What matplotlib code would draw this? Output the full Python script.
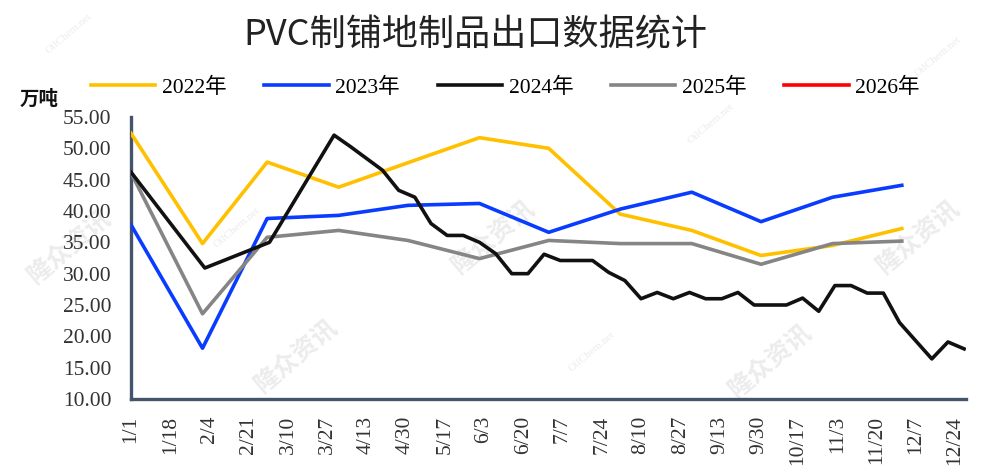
import matplotlib
matplotlib.use("Agg")
import matplotlib.pyplot as plt
import pandas as pd

plt.rcParams["font.family"] = ["Liberation Serif", "Noto Sans CJK SC", "DejaVu Sans"]

# monthly series (1st of each month)
months = ["1/1", "2/1", "3/1", "4/1", "5/1", "6/1", "7/1", "8/1", "9/1", "10/1", "11/1", "12/1"]
y2022 = [52.4, 34.8, 47.8, 43.8, 47.7, 51.7, 50.0, 39.5, 36.9, 32.9, 34.5, 37.2]
y2023 = [37.8, 18.1, 38.8, 39.3, 40.9, 41.2, 36.6, 40.3, 43.0, 38.3, 42.2, 44.1]
y2025 = [46.1, 23.6, 35.8, 36.9, 35.3, 32.4, 35.3, 34.8, 34.8, 31.5, 34.8, 35.2]
y2026 = []

# 2024 weekly series
dates2024 = ["1/1", "2/2", "3/2", "3/30", "4/6", "4/13", "4/20", "4/27", "5/4", "5/11",
             "5/18", "5/25", "6/1", "6/8", "6/15", "6/22", "6/29", "7/6", "7/13", "7/20",
             "7/27", "8/3", "8/10", "8/17", "8/24", "8/31", "9/7", "9/14", "9/21", "9/28",
             "10/5", "10/12", "10/19", "10/26", "11/2", "11/9", "11/16", "11/23", "11/30",
             "12/7", "12/14", "12/21", "12/28"]
y2024 = [46.2, 30.9, 35.0, 52.1, 50.3, 48.4, 46.5, 43.3, 42.2, 38.0,
         36.1, 36.1, 35.0, 33.2, 30.0, 30.0, 33.1, 32.1, 32.1, 32.1,
         30.2, 28.9, 26.0, 27.0, 26.0, 27.0, 26.0, 26.0, 27.0, 25.0,
         25.0, 25.0, 26.1, 24.0, 28.1, 28.1, 26.9, 26.9, 22.2,
         19.3, 16.4, 19.1, 18.0]

tick_dates = pd.date_range("2025-01-01", periods=22, freq="17D")


def day_of_year(labels):
    return [pd.Timestamp(f"2025/{s}").dayofyear - 1 for s in labels]


fig = plt.figure(figsize=(9.87, 4.75), dpi=100)
ax = fig.add_axes([0.1327, 0.16, 0.846, 0.5937])
ax.set_facecolor("none")

lw = 2.6
ax.plot(day_of_year(months), y2022, color="#FFC000", lw=lw, label="2022年", zorder=3)
ax.plot(day_of_year(months), y2023, color="#0A3CFF", lw=lw, label="2023年", zorder=3)
ax.plot(day_of_year(dates2024), y2024, color="#111111", lw=lw, label="2024年", zorder=4)
ax.plot(day_of_year(months), y2025, color="#858585", lw=lw, label="2025年", zorder=3)
ax.plot(day_of_year(months[:len(y2026)]), y2026, color="#FF0000", lw=lw, label="2026年", zorder=3)

ax.set_xlim(0, 361.8)
ax.set_ylim(10, 55)
ax.set_yticks(range(10, 56, 5))
ax.set_yticklabels([f"{v:.2f}" for v in range(10, 56, 5)])
ax.set_xticks([(d - tick_dates[0]).days for d in tick_dates])
ax.set_xticklabels([f"{d.month}/{d.day}" for d in tick_dates], rotation=90, va="top")

for side in ("top", "right"):
    ax.spines[side].set_visible(False)
for side in ("left", "bottom"):
    ax.spines[side].set_color("#44546A")
    ax.spines[side].set_linewidth(2.4)

ax.tick_params(axis="both", length=0, labelsize=15.5, colors="#333333")
ax.tick_params(axis="y", pad=14)
ax.tick_params(axis="x", pad=12)

fig.text(0.482, 0.925, "PVC制铺地制品出口数据统计", ha="center", va="center",
         fontsize=26, color="#222222", family=["Noto Sans CJK SC"])
fig.text(0.04, 0.79, "万吨", ha="center", va="center", fontsize=14,
         color="#111111", family=["Noto Sans CJK SC"], weight="bold")

fig.legend(loc="center", bbox_to_anchor=(0.512, 0.815), ncol=5, frameon=False,
           fontsize=15.5, handlelength=3.0, handletextpad=0.3, columnspacing=1.75)

# faint watermarks behind the plot
for x, y in [(0.5, 0.5), (0.93, 0.5), (0.07, 0.48), (0.3, 0.25), (0.78, 0.24)]:
    fig.text(x, y, "隆众资讯", rotation=40, ha="center", va="center", fontsize=18,
             color="#ececec", weight="bold", family=["Noto Sans CJK SC"], zorder=-1)
for x, y in [(0.07, 0.93), (0.24, 0.52), (0.6, 0.26), (0.72, 0.74), (0.95, 0.88)]:
    fig.text(x, y, "OilChem.net", rotation=40, ha="center", va="center", fontsize=8,
             color="#ececec", zorder=-1)

fig.savefig("out.png", dpi=100)
